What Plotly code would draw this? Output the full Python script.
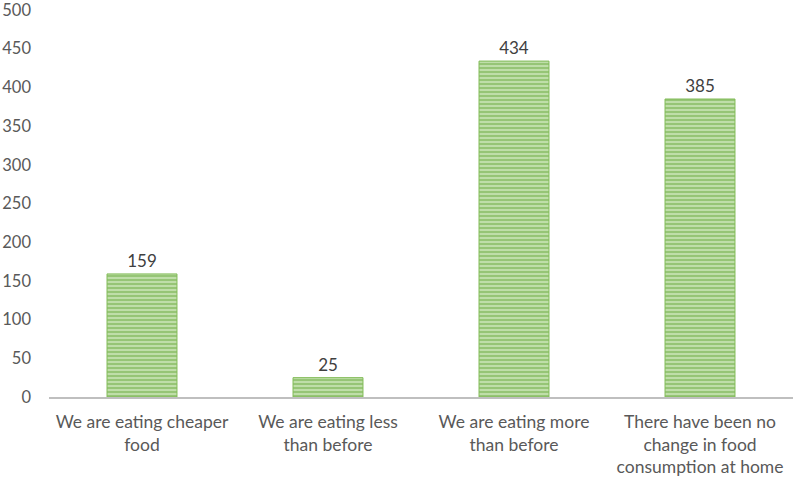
import plotly.graph_objects as go

categories = [
    "We are eating cheaper<br>food",
    "We are eating less<br>than before",
    "We are eating more<br>than before",
    "There have been no<br>change in food<br>consumption at home",
]
counts = [159, 25, 434, 385]
y_ticks = [0, 50, 100, 150, 200, 250, 300, 350, 400, 450, 500]

fig = go.Figure()
fig.add_trace(go.Bar(
    x=categories,
    y=counts,
    text=counts,
    textposition="outside",
    cliponaxis=False,
    textfont=dict(size=17, color="#404040"),
    marker=dict(
        color="#c8e3b5",
        line=dict(color="#80bb56", width=1),
        pattern=dict(shape="-", fgcolor="#64a536", bgcolor="#c9e4b6",
                     size=4, solidity=0.6),
    ),
    width=0.376,
))

fig.update_layout(
    width=794, height=482,
    margin=dict(l=49, r=1, t=10, b=85),
    plot_bgcolor="white",
    paper_bgcolor="white",
    font=dict(family="Lato", size=17, color="#595959"),
    showlegend=False,
    xaxis=dict(showline=True, linecolor="#bfbfbf", linewidth=1.5,
               ticks="", tickfont=dict(size=17.5), ticklabelstandoff=8,
               automargin=False),
    yaxis=dict(range=[0, 500], tickvals=y_ticks, showgrid=False,
               zeroline=False, showline=False, ticks="",
               tickfont=dict(size=16.5), ticklabelstandoff=17,
               ticklabeloverflow="allow", automargin=False),
)

# page body has an 8px default margin; drop it so the figure sits at 0,0
fig.write_html("out.html", config={"displayModeBar": False},
               post_script="document.body.style.margin='0';")
